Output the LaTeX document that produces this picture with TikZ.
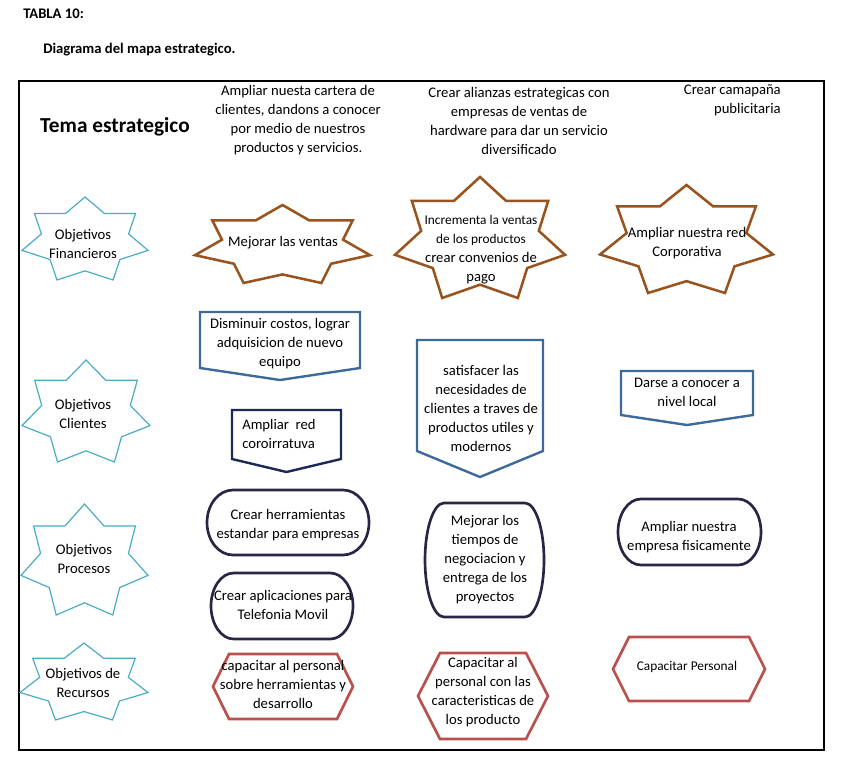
\documentclass[tikz,border=0pt]{standalone}
\usepackage{fontspec}
\setmainfont{Carlito}
\definecolor{starcyan}{HTML}{4BACC6}
\definecolor{starbrown}{HTML}{98531E}
\definecolor{pentblue}{HTML}{3E6A9A}
\definecolor{pentnavy}{HTML}{1C2857}
\definecolor{termpurple}{HTML}{2B2545}
\definecolor{hexred}{HTML}{B9504D}

% seven point star fitted in a box: style, left, top, right, bottom
\newcommand{\sevenstar}[5]{%
  \pgfmathsetmacro{\stsx}{(#4-#2)/1.9499}%
  \pgfmathsetmacro{\stsy}{(#5-#3)/1.9010}%
  \pgfmathsetmacro{\stcx}{(#2+#4)/2}%
  \pgfmathsetmacro{\stcy}{-(#3)-\stsy}%
  \draw[#1] (\stcx,-#3) \foreach \k in {1,...,13}{
    -- ({\stcx+\stsx*ifthenelse(isodd(\k),0.692,1)*cos(90-\k*180/7)},
        {\stcy+\stsy*ifthenelse(isodd(\k),0.692,1)*sin(90-\k*180/7)})} -- cycle;}
% box with pointed bottom: style, left, top, right, side bottom, tip
\newcommand{\downpent}[6]{%
  \draw[#1] (#2,-#3) -- (#4,-#3) -- (#4,-#5) -- ({(#2+#4)/2},-#6) -- (#2,-#5) -- cycle;}
% terminator box: style, left, top, right, bottom
\newcommand{\termbox}[5]{%
  \pgfmathsetmacro{\tbrx}{0.16*(#4-#2)}%
  \pgfmathsetmacro{\tbry}{(#5-#3)/2}%
  \draw[#1] ({#2+\tbrx},-#3) -- ({#4-\tbrx},-#3)
    arc[start angle=90, end angle=-90, x radius=\tbrx, y radius=\tbry]
    -- ({#2+\tbrx},-#5)
    arc[start angle=270, end angle=90, x radius=\tbrx, y radius=\tbry] -- cycle;}
% hexagon: style, left, top, right, bottom, inset
\newcommand{\hexbox}[6]{%
  \draw[#1] (#2,{-(#3+#5)/2}) -- ({#2+#6},-#3) -- ({#4-#6},-#3) -- (#4,{-(#3+#5)/2})
    -- ({#4-#6},-#5) -- ({#2+#6},-#5) -- cycle;}

\tikzset{
  txt/.style={align=center, inner sep=0pt, font=\fontsize{11}{14.25}\selectfont},
  smalltxt/.style={txt, font=\fontsize{10}{13}\selectfont},
  cyanline/.style={draw=starcyan, line width=0.9pt, line join=miter},
  brownline/.style={draw=starbrown, line width=1.9pt, line join=miter},
  blueline/.style={draw=pentblue, line width=1.8pt, line join=miter},
  navyline/.style={draw=pentnavy, line width=1.8pt, line join=miter},
  purpleline/.style={draw=termpurple, line width=2pt},
  redline/.style={draw=hexred, line width=2pt, line join=miter}
}

\begin{document}
\begin{tikzpicture}[x=0.75pt, y=0.75pt]
  \useasboundingbox (0,0) rectangle (841,-768);

  % titles
  \node[txt, font=\fontsize{11}{13}\bfseries, anchor=west] (tabla) at (23,-14) {TABLA 10:};
  \node[txt, font=\fontsize{11}{13}\bfseries, anchor=west] (diag) at (43,-50) {Diagrama del mapa estrategico.};
  \draw[line width=2.2pt] (19,-81) rectangle (824,-750);

  % header row
  \node[txt, font=\fontsize{16}{19}\bfseries] (tema) at (115,-127) {Tema estrategico};
  \node[txt] (hdrA) at (298,-120.5) {Ampliar nuesta cartera de\\clientes, dandons a conocer\\por medio de nuestros\\productos y servicios.};
  \node[txt] (hdrB) at (519,-120.5) {Crear alianzas estrategicas con\\empresas de ventas de\\hardware para dar un servicio\\diversificado};
  \node[txt, align=right, anchor=east] (hdrC) at (781,-100.5) {Crear camapa\~na\\publicitaria};

  % left column stars
  \sevenstar{cyanline}{22}{197}{148}{280}
  \sevenstar{cyanline}{22}{360}{150}{462}
  \sevenstar{cyanline}{21}{504}{148}{615}
  \sevenstar{cyanline}{20}{643}{148}{720}
  \node[txt] (finL) at (83,-243.5) {Objetivos\\Financieros};
  \node[txt] (cliL) at (83,-413.5) {Objetivos\\Clientes};
  \node[txt] (proL) at (84,-559) {Objetivos\\Procesos};
  \node[txt] (recL) at (83,-682.5) {Objetivos de\\Recursos};

  % financieros
  \sevenstar{brownline}{195}{205}{370}{283}
  \sevenstar{brownline}{395}{177}{565}{298}
  \sevenstar{brownline}{600}{185}{773}{293}
  \node[txt] (finA) at (283,-243) {Mejorar las ventas};
  \node[txt] (finB) at (481,-250) {{\fontsize{10}{13}\selectfont Incrementa la ventas}\\{\fontsize{10}{13}\selectfont de los productos}\\crear convenios de\\pago};
  \node[txt] (finC) at (687,-243.5) {Ampliar nuestra red\\Corporativa};

  % clientes
  \downpent{blueline}{200}{312}{360}{368}{380}
  \downpent{navyline}{232}{410}{341}{459}{472}
  \downpent{blueline}{417}{340}{543}{451}{477}
  \downpent{blueline}{621}{371}{753}{415}{425}
  \node[txt] (cliA1) at (280,-344) {Disminuir costos, lograr\\adquisicion de nuevo\\equipo};
  \node[txt, align=left, anchor=west] (cliA2) at (242,-434) {Ampliar~ red\\coroirratuva};
  \node[txt] (cliB) at (481,-408.5) {satisfacer las\\necesidades de\\clientes a traves de\\productos utiles y\\modernos};
  \node[txt] (cliC) at (687,-392.5) {Darse a conocer a\\nivel local};

  % procesos
  \termbox{purpleline}{207}{490}{369}{555}
  \termbox{purpleline}{211}{573}{353}{639}
  \termbox{purpleline}{425}{503}{544}{617}
  \termbox{purpleline}{618}{499}{761}{565}
  \node[txt] (proA1) at (288,-525.5) {Crear herramientas\\estandar para empresas};
  \node[txt] (proA2) at (283,-604.5) {Crear aplicaciones para\\Telefonia Movil};
  \node[txt] (proB) at (485,-559.5) {Mejorar los\\tiempos de\\negociacion y\\entrega de los\\proyectos};
  \node[txt] (proC) at (689,-537.5) {Ampliar nuestra\\empresa fisicamente};

  % recursos
  \hexbox{redline}{213}{654}{353}{719}{16}
  \hexbox{redline}{418}{653}{548}{739}{22}
  \hexbox{redline}{613}{637}{765}{701}{16}
  \node[txt] (recA) at (283,-684) {capacitar al personal\\sobre herramientas y\\desarrollo};
  \node[txt] (recB) at (483,-692.5) {Capacitar al\\personal con las\\caracteristicas de\\los producto};
  \node[smalltxt] (recC) at (687,-667) {Capacitar Personal};
\end{tikzpicture}
\end{document}
